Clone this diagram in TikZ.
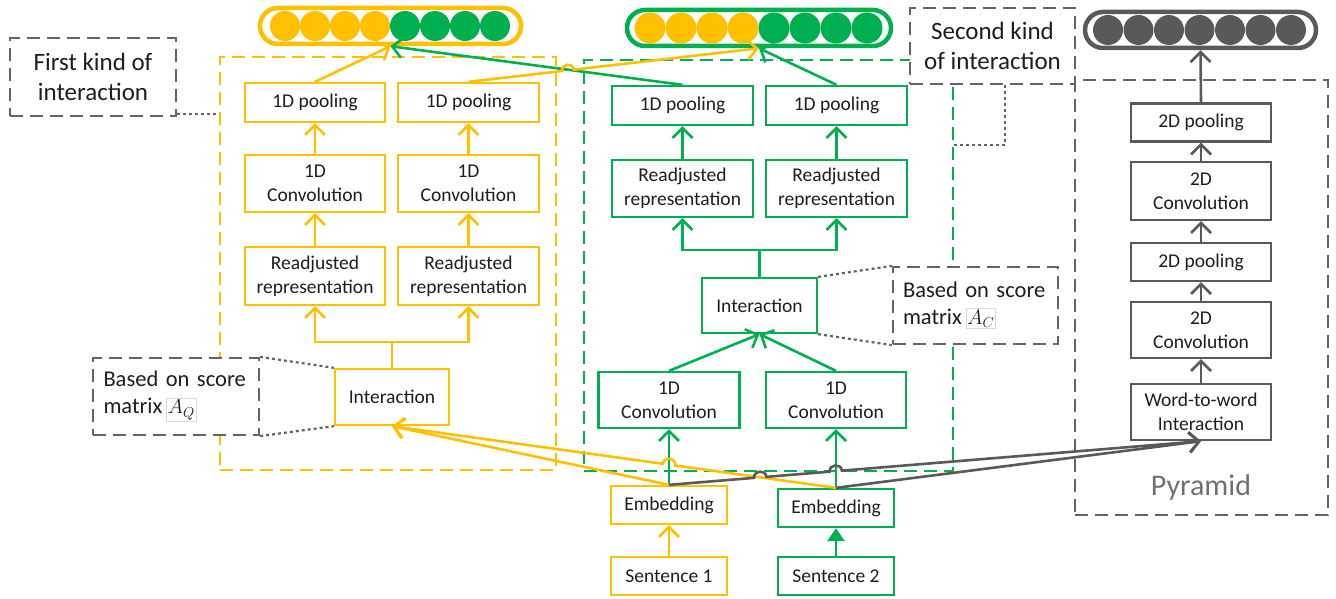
\documentclass[tikz,border=0pt]{standalone}
\usepackage{fontspec}
\setmainfont{Carlito}
\usetikzlibrary{arrows.meta,calc}
\definecolor{cyel}{HTML}{FFC000}
\definecolor{cgrn}{HTML}{00B050}
\definecolor{cdk}{HTML}{595959}
\definecolor{cdash}{HTML}{646464}
\definecolor{ctxt}{HTML}{1E1E1E}
\definecolor{cpyr}{HTML}{707070}
\newcommand\bxfont{\fontsize{19.5}{24}\selectfont}
\newcommand\lbfont{\fontsize{22.5}{27}\selectfont}
\newcommand\kdfont{\fontsize{25}{30}\selectfont}
\begin{document}
\begin{tikzpicture}[x=1pt,y=-1pt,
 bx/.style={draw, line width=2.3pt, fill=white, minimum width=140pt, inner sep=0pt, align=center, font=\bxfont, text=ctxt},
 ybx/.style={bx, draw=cyel},
 gbx/.style={bx, draw=cgrn},
 kbx/.style={bx, draw=cdk},
 barb/.style={-{Straight Barb[length=10pt,width=20pt]}},
 ycon/.style={draw=cyel, line width=2.6pt},
 gcon/.style={draw=cgrn, line width=2.6pt},
 kcon/.style={draw=cdk, line width=2.6pt},
 regbox/.style={line width=2.2pt, dash pattern=on 13pt off 7pt, inner sep=0pt},
 lbl/.style={draw=cdash, fill=white, line width=2.2pt, dash pattern=on 13pt off 7pt, inner sep=0pt, text=ctxt},
 dotc/.style={draw=cdash, line width=2.2pt, dash pattern=on 3pt off 3pt},
 tokbar/.style={line width=4.5pt, rounded corners=18pt, inner sep=0pt, minimum height=36pt},
 hopl/.style={bend left=90, looseness=1.6},
 hopr/.style={bend right=90, looseness=1.6},
]
\useasboundingbox (0,0) rectangle (1336,599);

% regions
\node[regbox, draw=cyel, minimum width=336pt, minimum height=413pt] (yreg) at (388,263.5) {};
\node[regbox, draw=cgrn, minimum width=369pt, minimum height=411pt] (greg) at (768.5,265.5) {};
\node[regbox, draw=cdash, minimum width=253pt, minimum height=435pt] (kreg) at (1201.5,297.5) {};

% label boxes
\node[lbl, minimum width=166pt, minimum height=78pt, font=\kdfont, align=center] (fk) at (93,77) {First kind of\\interaction};
\node[lbl, minimum width=165pt, minimum height=76pt, font=\kdfont, align=center] (sk) at (992.5,46) {Second kind\\of interaction};
\node[lbl, minimum width=166pt, minimum height=77pt, font=\lbfont, align=left, text width=145pt] (aq) at (176,396.5) {Based on score\\matrix\,{\setlength\fboxsep{1pt}\setlength\fboxrule{0.8pt}\fcolorbox{black!15}{white}{$A_Q$}}};
\node[lbl, minimum width=165pt, minimum height=77pt, font=\lbfont, align=left, text width=145pt] (ac) at (975.5,305.5) {Based on score\\matrix\,{\setlength\fboxsep{1pt}\setlength\fboxrule{0.8pt}\fcolorbox{black!15}{white}{$A_C$}}};
\node[font=\fontsize{30}{34}\selectfont, text=cpyr] (pyr) at (1201,487) {Pyramid};

% token bars
\node[tokbar, draw=cyel, minimum width=261pt] (ybar) at (390.5,26) {};
\foreach \i in {0,...,3} \fill[cyel] (285+30*\i,26) circle (15pt);
\foreach \i in {4,...,7} \fill[cgrn] (285+30*\i,26) circle (15pt);
\node[tokbar, draw=cgrn, minimum width=264pt] (gbar) at (759,28) {};
\foreach \i in {0,...,3} \fill[cyel] (650+31*\i,28) circle (15.5pt);
\foreach \i in {4,...,7} \fill[cgrn] (650+31*\i,28) circle (15.5pt);
\node[tokbar, draw=cdk, minimum width=231pt] (kbar) at (1200.5,30) {};
\foreach \i in {0,...,6} \fill[cdk] (1108+30.5*\i,30) circle (15pt);

% yellow nodes
\node[ybx, minimum height=39pt] (yp1) at (315,102.5) {1D pooling};
\node[ybx, minimum width=141pt, minimum height=39pt] (yp2) at (468.5,102.5) {1D pooling};
\node[ybx, minimum height=57pt] (yc1) at (315,183.5) {1D\\Convolution};
\node[ybx, minimum width=141pt, minimum height=57pt] (yc2) at (468.5,183.5) {1D\\Convolution};
\node[ybx, minimum height=58pt] (yr1) at (315,276) {Readjusted\\representation};
\node[ybx, minimum width=141pt, minimum height=58pt] (yr2) at (468.5,276) {Readjusted\\representation};
\node[ybx, minimum width=114pt, minimum height=56pt] (yi) at (392,397) {Interaction};
\node[ybx, minimum width=116pt, minimum height=38pt] (e1) at (669,505) {Embedding};
\node[ybx, minimum width=116pt, minimum height=38pt] (s1) at (669,576) {Sentence 1};

% green nodes
\node[gbx, minimum width=141pt, minimum height=39pt] (gp1) at (682.5,105.5) {1D pooling};
\node[gbx, minimum width=141pt, minimum height=39pt] (gp2) at (836.5,105.5) {1D pooling};
\node[gbx, minimum width=141pt, minimum height=57pt] (gr1) at (682.5,188.5) {Readjusted\\representation};
\node[gbx, minimum width=141pt, minimum height=57pt] (gr2) at (836.5,188.5) {Readjusted\\representation};
\node[gbx, minimum width=115pt, minimum height=55pt] (gi) at (759.5,305.5) {Interaction};
\node[gbx, minimum width=141pt, minimum height=56pt] (gc1) at (669,400) {1D\\Convolution};
\node[gbx, minimum width=140pt, minimum height=56pt] (gc2) at (836,400) {1D\\Convolution};
\node[gbx, minimum width=116pt, minimum height=38pt] (e2) at (836,508) {Embedding};
\node[gbx, minimum width=116pt, minimum height=38pt] (s2) at (836,576) {Sentence 2};

% gray nodes
\node[kbx, minimum height=38pt] (k5) at (1201,122.5) {2D pooling};
\node[kbx, minimum height=58pt] (k4) at (1201,191) {2D\\Convolution};
\node[kbx, minimum height=38pt] (k3) at (1201,262) {2D pooling};
\node[kbx, minimum height=56pt] (k2) at (1201,330) {2D\\Convolution};
\node[kbx, minimum height=56pt] (k1) at (1201,412) {Word-to-word\\Interaction};

% dotted callouts
\draw[dotc] ($(fk.south east)+(0,-3)$) -- ($(yreg.west |- fk.south)+(0,-3)$);
\draw[dotc] ($(sk.south)+(12.5,0)$) |- ($(greg.north east)+(0,86)$);
\draw[dotc] (aq.north east) -- (yi.north west);
\draw[dotc] (aq.south east) -- (yi.south west);
\draw[dotc] (gi.north east) -- (ac.north west);
\draw[dotc] (gi.south east) -- (ac.south west);

% yellow connectors
\draw[ycon, barb] (yc1.north) -- (yp1.south);
\draw[ycon, barb] (yc2.north) -- (yp2.south);
\draw[ycon, barb] (yr1.north) -- (yc1.south);
\draw[ycon, barb] (yr2.north) -- (yc2.south);
\coordinate (ysplit) at (392,342);
\draw[ycon] (yi.north) -- (ysplit);
\draw[ycon, barb] (ysplit) -| (yr1.south);
\draw[ycon, barb] (ysplit) -| (yr2.south);
\draw[ycon, barb] (s1.north) -- (e1.south);

% green connectors
\draw[gcon, barb] (gr1.north) -- (gp1.south);
\draw[gcon, barb] (gr2.north) -- (gp2.south);
\coordinate (gsplit) at (759.5,250);
\draw[gcon] (gi.north) -- (gsplit);
\draw[gcon, barb] (gsplit) -| (gr1.south);
\draw[gcon, barb] (gsplit) -| (gr2.south);
\draw[gcon, barb] (gc1.north) -- (gi.south);
\draw[gcon, barb] (gc2.north) -- (gi.south);
\draw[gcon, barb] (e1.north) -- (gc1.south);
\draw[gcon, barb] (e2.north) -- (gc2.south);
\draw[gcon, -{Triangle[length=13pt,width=17pt]}] (s2.north) -- (e2.south);

% top connectors to token bars
\draw[ycon, barb] (yp1.north) -- (ybar.south);
\draw[gcon, barb] (gp1.north) -- (ybar.south);
\draw[ycon, barb] (yp2.north) -- ($(yp2.north)!0.322!(gbar.south)$) to[hopl] ($(yp2.north)!0.363!(gbar.south)$) -- (gbar.south);
\draw[gcon, barb] (gp2.north) -- (gbar.south);

% embeddings to interaction
\draw[ycon, barb] (e1.north) -- (yi.south);
\draw[ycon, barb] (e2.north) -- ($(e2.north)!0.362!(yi.south)$) to[hopr] ($(e2.north)!0.390!(yi.south)$) -- (yi.south);

% gray connectors
\draw[kcon, barb] (k1.north) -- (k2.south);
\draw[kcon, barb] (k2.north) -- (k3.south);
\draw[kcon, barb] (k3.north) -- (k4.south);
\draw[kcon, barb] (k4.north) -- (k5.south);
\draw[kcon, barb] (k5.north) -- (kbar.south);
\draw[kcon, barb] (e2.north) -- (k1.south);
\draw[kcon, barb] (e1.north) -- ($(e1.north)!0.160!(k1.south)$) to[hopl] ($(e1.north)!0.183!(k1.south)$) -- ($(e1.north)!0.302!(k1.south)$) to[hopl] ($(e1.north)!0.325!(k1.south)$) -- (k1.south);
\end{tikzpicture}
\end{document}
